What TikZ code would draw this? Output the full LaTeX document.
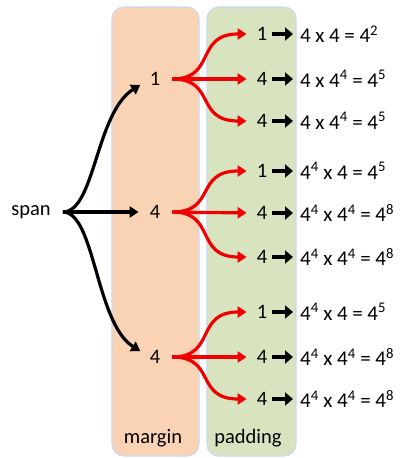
\documentclass[tikz,border=0pt]{standalone}
\usepackage{fontspec}
\setmainfont{Carlito}
\usetikzlibrary{arrows.meta}
\definecolor{peach}{HTML}{FAD3B4}
\definecolor{olive}{HTML}{D8E4BF}
\definecolor{edgeblue}{HTML}{C9D9F0}
\definecolor{arrred}{HTML}{F00000}
\tikzset{
  lbl/.style={inner sep=0pt, font=\fontsize{20.5}{24}\selectfont},
  form/.style={inner sep=0pt, anchor=west, fill=white, font=\fontsize{21}{24}\selectfont},
  colbox/.style={draw=edgeblue, line width=1.2pt, rounded corners=12pt},
  blk/.style={line width=3.2pt, black, -{Triangle[length=9pt,width=11pt]}},
  redarr/.style={line width=3.2pt, arrred, -{Triangle[length=9pt,width=11pt]}},
  fat/.style={line width=3.8pt, black, -{Triangle[length=8pt,width=13pt]}}
}
\newcommand{\spc}{\hspace{0.22em}}
\begin{document}
\begin{tikzpicture}[x=1pt,y=-1pt]
\useasboundingbox (0,0) rectangle (406,458);
\fill[white] (0,0) rectangle (406,458);
\draw[colbox, fill=peach] (112,7) rectangle (199,456);
\draw[colbox, fill=olive] (207,7) rectangle (296,456);

\node[lbl] (span) at (31,212) {span};
\node[lbl] (m1) at (155,79) {1};
\node[lbl] (m2) at (155,212) {4};
\node[lbl] (m3) at (155,357) {4};

\node[lbl] (r1) at (262,34) {1};
\node[lbl] (r2) at (262,79) {4};
\node[lbl] (r3) at (262,121) {4};
\node[lbl] (r4) at (262,171) {1};
\node[lbl] (r5) at (262,213) {4};
\node[lbl] (r6) at (262,257) {4};
\node[lbl] (r7) at (262,312) {1};
\node[lbl] (r8) at (262,357) {4};
\node[lbl] (r9) at (262,399) {4};

\node[form] (f1) at (300,34) {4\spc x\spc 4\spc =\spc 4\textsuperscript{2}};
\node[form] (f2) at (300,79) {4\spc x\spc 4\textsuperscript{4}\spc =\spc 4\textsuperscript{5}};
\node[form] (f3) at (300,121) {4\spc x\spc 4\textsuperscript{4}\spc =\spc 4\textsuperscript{5}};
\node[form] (f4) at (300,171) {4\textsuperscript{4}\spc x\spc 4\spc =\spc 4\textsuperscript{5}};
\node[form] (f5) at (300,213) {4\textsuperscript{4}\spc x\spc 4\textsuperscript{4}\spc =\spc 4\textsuperscript{8}};
\node[form] (f6) at (300,257) {4\textsuperscript{4}\spc x\spc 4\textsuperscript{4}\spc =\spc 4\textsuperscript{8}};
\node[form] (f7) at (300,312) {4\textsuperscript{4}\spc x\spc 4\spc =\spc 4\textsuperscript{5}};
\node[form] (f8) at (300,357) {4\textsuperscript{4}\spc x\spc 4\textsuperscript{4}\spc =\spc 4\textsuperscript{8}};
\node[form] (f9) at (300,399) {4\textsuperscript{4}\spc x\spc 4\textsuperscript{4}\spc =\spc 4\textsuperscript{8}};

\node[lbl] (lm) at (153,438) {margin};
\node[lbl] (lp) at (248,438) {padding};

% span arrows
\draw[blk, shorten <=12pt, shorten >=11pt] (span.east) .. controls +(44,0) and +(-54,34) .. (m1.west);
\draw[blk, shorten <=12pt, shorten >=11pt] (span.east) -- (m2.west);
\draw[blk, shorten <=12pt, shorten >=11pt] (span.east) .. controls +(44,0) and +(-54,-34) .. (m3.west);

% red arrows
\foreach \m/\a/\b/\c in {m1/r1/r2/r3, m2/r4/r5/r6, m3/r7/r8/r9}{
  \draw[redarr, shorten <=12pt, shorten >=10pt] (\m.east) .. controls +(56,0) and +(-62,0) .. (\a.west);
  \draw[redarr, shorten <=12pt, shorten >=10pt] (\m.east) -- (\b.west);
  \draw[redarr, shorten <=12pt, shorten >=10pt] (\m.east) .. controls +(56,0) and +(-62,0) .. (\c.west);
}

% fat black arrows
\foreach \r/\f in {r1/f1,r2/f2,r3/f3,r4/f4,r5/f5,r6/f6,r7/f7,r8/f8,r9/f9}{
  \draw[fat, shorten <=5pt, shorten >=7pt] (\r.east) -- (\f.west);
}
\end{tikzpicture}
\end{document}
